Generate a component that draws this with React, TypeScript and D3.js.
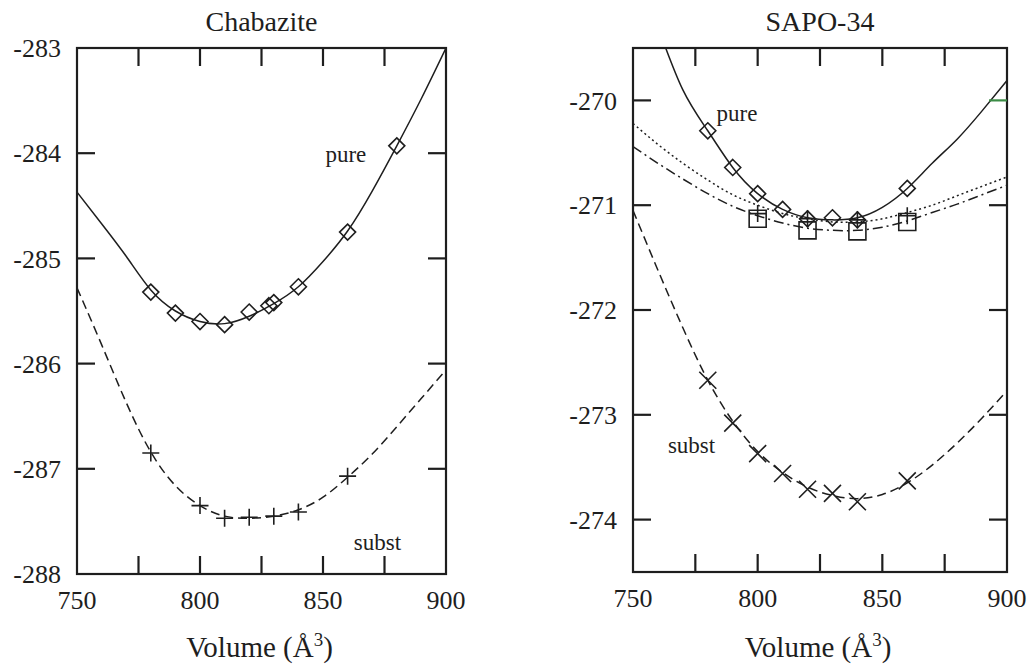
import React from "react";
import * as d3 from "d3";

// ---------- data ----------
const volumeGrid = [750, 760, 770, 780, 790, 800, 810, 820, 830, 840, 850, 860, 870, 880, 890, 900];
const sapoPureGrid = [760, 770, 780, 790, 800, 810, 820, 830, 840, 850, 860, 870, 880, 890, 900];

// Chabazite
const chabPureFit = [-284.37, -284.67, -284.98, -285.3, -285.5, -285.6, -285.62, -285.55, -285.43, -285.27, -285.03, -284.74, -284.36, -283.93, -283.48, -283.0];
const chabPureV = [780, 790, 800, 810, 820, 828, 830, 840, 860, 880];
const chabPureE = [-285.32, -285.52, -285.6, -285.63, -285.51, -285.45, -285.42, -285.27, -284.75, -283.93];
const chabSubstFit = [-285.28, -285.82, -286.37, -286.84, -287.16, -287.35, -287.45, -287.47, -287.45, -287.39, -287.27, -287.08, -286.86, -286.6, -286.33, -286.06];
const chabSubstV = [780, 800, 810, 820, 830, 840, 860];
const chabSubstE = [-286.85, -287.35, -287.47, -287.46, -287.45, -287.41, -287.07];

// SAPO-34
const sapoPureFit = [-269.3, -269.9, -270.29, -270.64, -270.89, -271.04, -271.12, -271.14, -271.12, -271.02, -270.84, -270.6, -270.37, -270.1, -269.81];
const sapoPureV = [780, 790, 800, 810, 820, 830, 840, 860];
const sapoPureE = [-270.29, -270.64, -270.89, -271.04, -271.13, -271.12, -271.14, -270.84];
const sapoDottedFit = [-270.22, -270.42, -270.6, -270.76, -270.9, -271.0, -271.08, -271.13, -271.16, -271.16, -271.13, -271.07, -271.0, -270.91, -270.82, -270.73];
const sapoPlusV = [800, 820, 840, 860];
const sapoPlusE = [-271.08, -271.13, -271.14, -271.1];
const sapoDashDotFit = [-270.44, -270.6, -270.75, -270.89, -271.01, -271.1, -271.17, -271.22, -271.24, -271.24, -271.21, -271.15, -271.07, -270.99, -270.9, -270.81];
const sapoSquareV = [800, 820, 840, 860];
const sapoSquareE = [-271.13, -271.24, -271.25, -271.16];
const sapoSubstFit = [-271.05, -271.62, -272.17, -272.67, -273.06, -273.35, -273.55, -273.69, -273.77, -273.8, -273.76, -273.65, -273.48, -273.27, -273.03, -272.77];
const sapoCrossV = [780, 790, 800, 810, 820, 830, 840, 860];
const sapoCrossE = [-272.67, -273.08, -273.37, -273.56, -273.71, -273.75, -273.83, -273.63];

const xTickLabels = [750, 800, 850, 900];
const xMinorTicks = [775, 800, 825, 850, 875];
const chabYTicks = [-288, -287, -286, -285, -284, -283];
const sapoYTicks = [-274, -273, -272, -271, -270];

// ---------- styling ----------
const INK = "#1e1e1e";
const FONT = "Liberation Serif, DejaVu Serif, serif";

type Curve = { xs: number[]; ys: number[]; dash?: string };
type Marks = { xs: number[]; ys: number[]; shape: "diamond" | "plus" | "square" | "cross" };
type Label = { text: string; v: number; e: number; anchor?: string };

type PanelProps = {
  id: string;
  title: string;
  x0: number;
  x1: number;
  y0: number;
  y1: number;
  yDomain: [number, number];
  yTicks: number[];
  curves: Curve[];
  marks: Marks[];
  labels: Label[];
  greenRightTick?: number;
};

function markerPath(shape: string, cx: number, cy: number): string {
  if (shape === "diamond") {
    const r = 8;
    return `M${cx},${cy - r}L${cx + r},${cy}L${cx},${cy + r}L${cx - r},${cy}Z`;
  }
  if (shape === "square") {
    const r = 8.5;
    return `M${cx - r},${cy - r}H${cx + r}V${cy + r}H${cx - r}Z`;
  }
  if (shape === "plus") {
    const r = 8.5;
    return `M${cx - r},${cy}H${cx + r}M${cx},${cy - r}V${cy + r}`;
  }
  const r = 8.5;
  return `M${cx - r},${cy - r}L${cx + r},${cy + r}M${cx - r},${cy + r}L${cx + r},${cy - r}`;
}

function Panel(p: PanelProps) {
  const x = d3.scaleLinear().domain([750, 900]).range([p.x0, p.x1]);
  const y = d3.scaleLinear().domain(p.yDomain).range([p.y1, p.y0]);
  const line = d3
    .line<[number, number]>()
    .x((d) => x(d[0]))
    .y((d) => y(d[1]))
    .curve(d3.curveNatural);
  const tickLen = 18;
  const cx = (p.x0 + p.x1) / 2;
  return (
    <g>
      <defs>
        <clipPath id={`clip-${p.id}`}>
          <rect x={p.x0} y={p.y0} width={p.x1 - p.x0} height={p.y1 - p.y0} />
        </clipPath>
      </defs>
      <text x={cx} y={31} textAnchor="middle" style={{ fontFamily: FONT }} fontSize={28} fill={INK}>
        {p.title}
      </text>
      {/* curves */}
      <g clipPath={`url(#clip-${p.id})`}>
        {p.curves.map((c, i) => (
          <path
            key={i}
            d={line(c.xs.map((v, j) => [v, c.ys[j]] as [number, number])) || ""}
            fill="none"
            stroke={INK}
            strokeWidth={1.5}
            strokeDasharray={c.dash}
          />
        ))}
      </g>
      {/* markers */}
      {p.marks.map((m, i) => (
        <g key={i}>
          {m.xs.map((v, j) => (
            <path key={j} d={markerPath(m.shape, x(v), y(m.ys[j]))} fill="none" stroke={INK} strokeWidth={1.6} />
          ))}
        </g>
      ))}
      {/* frame */}
      <rect x={p.x0} y={p.y0} width={p.x1 - p.x0} height={p.y1 - p.y0} fill="none" stroke={INK} strokeWidth={2.2} />
      {/* x ticks */}
      {xMinorTicks.map((t) => (
        <g key={t}>
          <line x1={x(t)} x2={x(t)} y1={p.y1} y2={p.y1 - tickLen} stroke={INK} strokeWidth={2.2} />
          <line x1={x(t)} x2={x(t)} y1={p.y0} y2={p.y0 + tickLen} stroke={INK} strokeWidth={2.2} />
        </g>
      ))}
      {xTickLabels.map((t) => (
        <text key={t} x={x(t)} y={p.y1 + 35} textAnchor="middle" style={{ fontFamily: FONT }} fontSize={26} fill={INK}>
          {t}
        </text>
      ))}
      {/* y ticks */}
      {p.yTicks.map((t) => {
        const yy = y(t);
        const inner = yy > p.y0 + 2 && yy < p.y1 - 2;
        return (
          <g key={t}>
            {inner && (
              <>
                <line x1={p.x0} x2={p.x0 + tickLen} y1={yy} y2={yy} stroke={INK} strokeWidth={2.2} />
                <line
                  x1={p.x1}
                  x2={p.x1 - tickLen}
                  y1={yy}
                  y2={yy}
                  stroke={p.greenRightTick === t ? "#3c8c46" : INK}
                  strokeWidth={2.2}
                />
              </>
            )}
            <text x={p.x0 - 16} y={yy} dy="0.35em" textAnchor="end" style={{ fontFamily: FONT }} fontSize={26} fill={INK}>
              {t}
            </text>
          </g>
        );
      })}
      {/* series labels */}
      {p.labels.map((l, i) => (
        <text key={i} x={x(l.v)} y={y(l.e)} textAnchor={l.anchor || "start"} style={{ fontFamily: FONT }} fontSize={23} fill={INK}>
          {l.text}
        </text>
      ))}
      {/* x axis title */}
      <text x={cx - 2} y={657} textAnchor="middle" style={{ fontFamily: FONT }} fontSize={29} fill={INK}>
        Volume (Å<tspan dy="-11" fontSize={19}>3</tspan>
        <tspan dy="11">)</tspan>
      </text>
    </g>
  );
}

export default function App() {
  return (
    <svg
      width={1029}
      height={669}
      viewBox="0 0 1029 669"
      style={{ position: "absolute", left: 0, top: 0, background: "#fff" }}
    >
      <rect width={1029} height={669} fill="#fff" />
      <Panel
        id="chab"
        title="Chabazite"
        x0={77}
        x1={446}
        y0={48}
        y1={574}
        yDomain={[-288, -283]}
        yTicks={chabYTicks}
        curves={[
          { xs: volumeGrid, ys: chabPureFit },
          { xs: volumeGrid, ys: chabSubstFit, dash: "9,5" },
        ]}
        marks={[
          { xs: chabPureV, ys: chabPureE, shape: "diamond" },
          { xs: chabSubstV, ys: chabSubstE, shape: "plus" },
        ]}
        labels={[
          { text: "pure", v: 851, e: -284.08 },
          { text: "subst", v: 862.5, e: -287.77 },
        ]}
      />
      <Panel
        id="sapo"
        title="SAPO-34"
        x0={633}
        x1={1007}
        y0={48}
        y1={572}
        yDomain={[-274.5, -269.5]}
        yTicks={sapoYTicks}
        greenRightTick={-270}
        curves={[
          { xs: sapoPureGrid, ys: sapoPureFit },
          { xs: volumeGrid, ys: sapoDottedFit, dash: "2,3" },
          { xs: volumeGrid, ys: sapoDashDotFit, dash: "10,4,2,4" },
          { xs: volumeGrid, ys: sapoSubstFit, dash: "9,5" },
        ]}
        marks={[
          { xs: sapoPureV, ys: sapoPureE, shape: "diamond" },
          { xs: sapoPlusV, ys: sapoPlusE, shape: "plus" },
          { xs: sapoSquareV, ys: sapoSquareE, shape: "square" },
          { xs: sapoCrossV, ys: sapoCrossE, shape: "cross" },
        ]}
        labels={[
          { text: "pure", v: 783.5, e: -270.2 },
          { text: "subst", v: 764, e: -273.36 },
        ]}
      />
    </svg>
  );
}
